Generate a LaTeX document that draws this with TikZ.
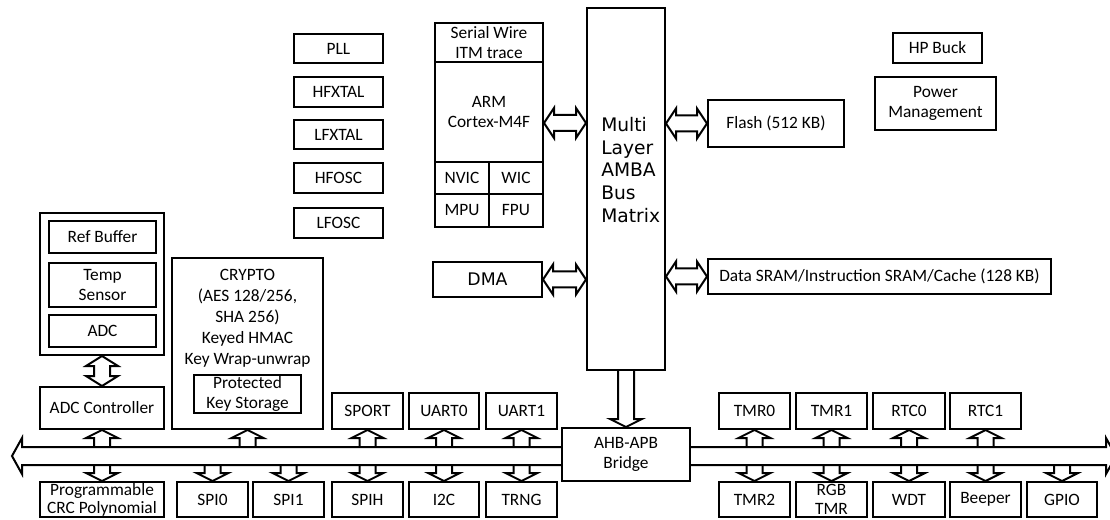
\documentclass[tikz,border=0pt]{standalone}
\usepackage{fontspec}
\setmainfont{Carlito}
\newfontfamily\vfont{DejaVu Sans}
\usetikzlibrary{calc}
\tikzset{
  ln/.style={line width=1.5pt, line join=miter},
  box/.style={ln, draw, fill=white, inner sep=0pt, align=center, font=\fontsize{13}{15}\selectfont},
  arr/.style={ln, draw},
}
% \bx[opts]{name}{x1}{y1}{x2}{y2}{text}
\newcommand\bx[7][]{\node[box,minimum width={(#5-#3)*0.75pt},minimum height={(#6-#4)*0.75pt},#1] (#2) at ({(#3+#5)/2},{(#4+#6)/2}) {#7};}
% horizontal double arrow between tips #1 (left) and #2 (right)
\newcommand\hdarr[2]{\draw[arr] let \p1=#1, \p2=#2 in
  (\x1,\y1) -- (\x1+7.5pt,\y1+11.25pt) -- (\x1+7.5pt,\y1+6pt) -- (\x2-7.5pt,\y1+6pt) -- (\x2-7.5pt,\y1+11.25pt) -- (\x2,\y1)
  -- (\x2-7.5pt,\y1-11.25pt) -- (\x2-7.5pt,\y1-6pt) -- (\x1+7.5pt,\y1-6pt) -- (\x1+7.5pt,\y1-11.25pt) -- cycle;}
% vertical double arrow between tips #1 (top) and #2 (bottom)
\newcommand\vdarr[2]{\draw[arr] let \p1=#1, \p2=#2 in
  (\x1,\y1) -- (\x1+12pt,\y1-7.5pt) -- (\x1+6pt,\y1-7.5pt) -- (\x1+6pt,\y2+7.5pt) -- (\x1+12pt,\y2+7.5pt) -- (\x1,\y2)
  -- (\x1-12pt,\y2+7.5pt) -- (\x1-6pt,\y2+7.5pt) -- (\x1-6pt,\y1-7.5pt) -- (\x1-12pt,\y1-7.5pt) -- cycle;}
% up arrow: tip #1 (module south), shaft down to #2
\newcommand\uparr[2]{\draw[arr] let \p1=#1, \p2=#2 in
  (\x1-6pt,\y2) -- (\x1-6pt,\y1-6pt) -- (\x1-12pt,\y1-6pt) -- (\x1,\y1) -- (\x1+12pt,\y1-6pt) -- (\x1+6pt,\y1-6pt) -- (\x1+6pt,\y2);}
% down arrow: tip #1 (module north), shaft up to #2
\newcommand\dnarr[2]{\draw[arr] let \p1=#1, \p2=#2 in
  (\x1-6pt,\y2) -- (\x1-6pt,\y1+6pt) -- (\x1-12pt,\y1+6pt) -- (\x1,\y1) -- (\x1+12pt,\y1+6pt) -- (\x1+6pt,\y1+6pt) -- (\x1+6pt,\y2);}
\begin{document}
\begin{tikzpicture}[x=0.75pt,y=-0.75pt]
\useasboundingbox (0,0) rectangle (1110,520);
\clip (0,0) rectangle (1110,520);
% clocks
\bx{pll}{294}{34}{383}{63}{PLL}
\bx{hfxtal}{294}{77}{383}{107}{HFXTAL}
\bx{lfxtal}{294}{120}{383}{149}{LFXTAL}
\bx{hfosc}{294}{163}{383}{193}{HFOSC}
\bx{lfosc}{294}{208}{383}{238}{LFOSC}
% core
\bx{sw}{435}{23}{543}{62}{Serial Wire\\ITM trace}
\bx{arm}{435}{62}{543}{162}{ARM\\Cortex-M4F}
\bx{nvic}{435}{162}{489}{194}{NVIC}
\bx{wic}{489}{162}{543}{194}{WIC}
\bx{mpu}{435}{194}{489}{227}{MPU}
\bx{fpu}{489}{194}{543}{227}{FPU}
\bx[font=\vfont\fontsize{13}{15}\selectfont]{dma}{433}{262}{542}{297}{DMA}
\bx{mtx}{587}{8}{665}{370}{}
\node[font=\vfont\fontsize{14}{17}\selectfont, align=left, anchor=west, inner sep=0pt] (mtxt) at (601,170) {Multi\\Layer\\AMBA\\Bus\\Matrix};
% memories & power
\bx{flash}{708}{100}{844}{147}{Flash (512 KB)}
\bx{sram}{708}{259}{1051}{294}{Data SRAM/Instruction SRAM/Cache (128 KB)}
\bx{hpbuck}{893}{33}{982}{63}{HP Buck}
\bx{pm}{875}{77}{996}{130}{Power\\Management}
% ADC
\bx{adcbox}{40}{213}{164}{355}{}
\bx{refbuf}{49}{221}{156}{253}{Ref Buffer}
\bx{temp}{49}{263}{156}{307}{Temp\\Sensor}
\bx{adc}{49}{315}{156}{347}{ADC}
\bx{adcc}{40}{387}{164}{429}{ADC Controller}
% crypto
\bx{crypto}{172}{258}{323}{429}{}
\node[font=\fontsize{13}{15.8}\selectfont, align=center, inner sep=0pt] (cryptotxt) at (247.5,318) {CRYPTO\\(AES 128/256,\\SHA 256)\\Keyed HMAC\\Key Wrap-unwrap};
\bx{pks}{194}{375}{301}{413}{Protected\\Key Storage}
% top peripherals
\bx{sport}{332}{393}{403}{429}{SPORT}
\bx{uart0}{409}{393}{479}{429}{UART0}
\bx{uart1}{486}{393}{557}{429}{UART1}
\bx{tmr0}{719}{393}{790}{429}{TMR0}
\bx{tmr1}{796}{393}{867}{429}{TMR1}
\bx{rtc0}{873}{393}{945}{429}{RTC0}
\bx{rtc1}{950}{393}{1021}{429}{RTC1}
% bottom peripherals
\bx[font=\fontsize{13}{13.5}\selectfont]{crc}{40}{482}{164}{517}{Programmable\\CRC Polynomial}
\bx{spi0}{177}{482}{248}{517}{SPI0}
\bx{spi1}{253}{482}{324}{517}{SPI1}
\bx{spih}{332}{482}{403}{517}{SPIH}
\bx{i2c}{409}{482}{479}{517}{I2C}
\bx{trng}{486}{482}{557}{517}{TRNG}
\bx{tmr2}{719}{482}{790}{517}{TMR2}
\bx[font=\fontsize{13}{14}\selectfont]{rgb}{796}{482}{867}{517}{RGB\\TMR}
\bx{wdt}{873}{482}{945}{517}{WDT}
\bx{beeper}{950}{482}{1021}{517}{Beeper}
\bx{gpio}{1027}{482}{1097}{517}{GPIO}
% bridge
\bx{bridge}{562}{428}{690}{481}{AHB-APB\\Bridge}
% APB bus
\coordinate (busT) at (0,447);
\coordinate (busB) at (0,465);
\coordinate (busL) at (12,456);
\coordinate (busR) at (1116,456);
\draw[ln] (bridge.west |- busT) -- (22,447) -- (22,438) -- (busL) -- (22,474) -- (22,465) -- (bridge.west |- busB);
\draw[ln] (bridge.east |- busT) -- (1106,447) -- (1106,438) -- (busR) -- (1106,474) -- (1106,465) -- (bridge.east |- busB);
% bus matrix connections
\coordinate (armio) at ($(arm.east)+(0,11)$);
\hdarr{(armio)}{(mtx.west |- armio)}
\hdarr{(dma.east)}{(mtx.west |- dma.east)}
\hdarr{(mtx.east |- flash.west)}{(flash.west)}
\hdarr{(mtx.east |- sram.west)}{(sram.west)}
\dnarr{(bridge.north)}{(mtx.south)}
\vdarr{(adcbox.south)}{(adcc.north)}
% bus to peripherals
\foreach \m in {adcc,crypto,sport,uart0,uart1,tmr0,tmr1,rtc0,rtc1}{\uparr{(\m.south)}{(\m.south |- busT)}}
\foreach \m in {crc,spi0,spi1,spih,i2c,trng,tmr2,rgb,wdt,beeper,gpio}{\dnarr{(\m.north)}{(\m.north |- busB)}}
\end{tikzpicture}
\end{document}
